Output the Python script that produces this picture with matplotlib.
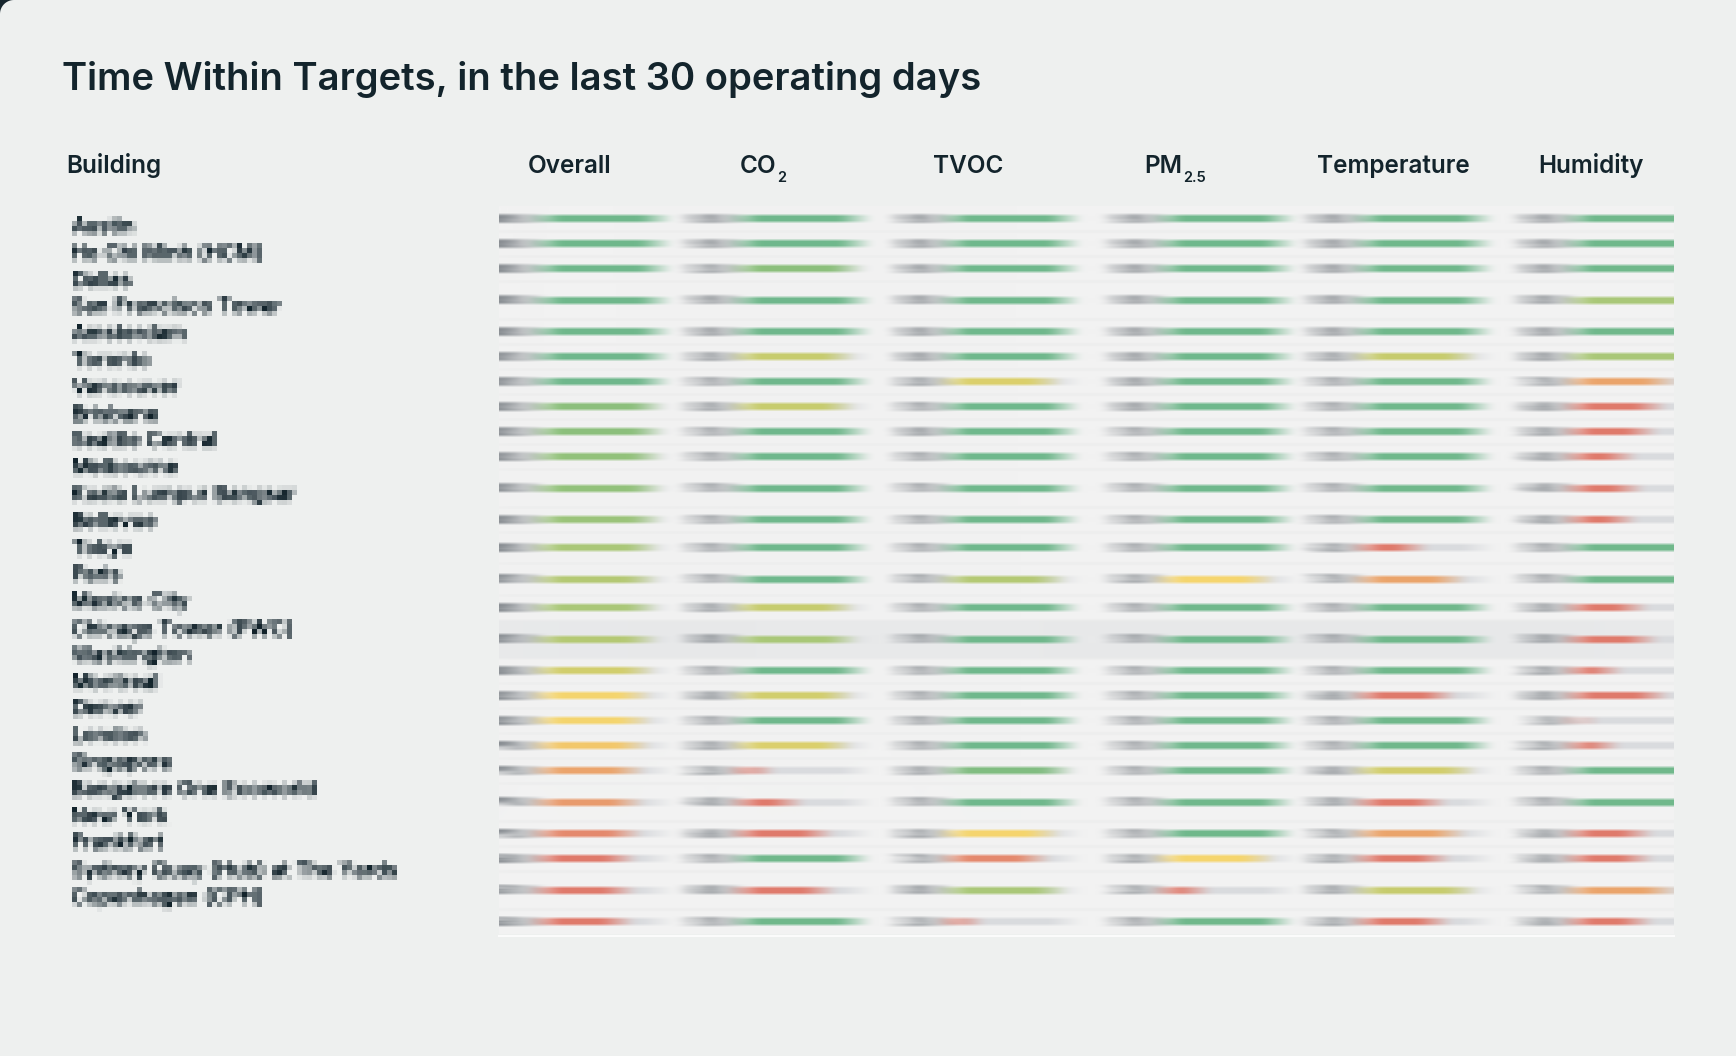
import numpy as np
import matplotlib
matplotlib.use('Agg')
import matplotlib.pyplot as plt
from matplotlib.colors import LinearSegmentedColormap, Normalize
from matplotlib.patches import Rectangle, Polygon

plt.rcParams['font.family'] = ['Inter', 'DejaVu Sans']

# ---- data ----
buildings = ['Austin', 'Ho Chi Minh (HCM)', 'Dallas', 'San Francisco Tower',
             'Amsterdam', 'Toronto', 'Vancouver', 'Brisbane', 'Seattle Central',
             'Melbourne', 'Kuala Lumpur Bangsar', 'Bellevue', 'Tokyo', 'Paris',
             'Mexico City', 'Chicago Tower (PWC)', 'Washington', 'Montreal',
             'Denver', 'London', 'Singapore', 'Bangalore One Ecoworld',
             'New York', 'Frankfurt', 'Sydney Quay (Hub) at The Yards',
             'Copenhagen (CPH)']
# header text and optional subscript
metrics = [('Overall', ''), ('CO', '2'), ('TVOC', ''), ('PM', '2.5'),
           ('Temperature', ''), ('Humidity', '')]

# percent of time within target, one value per building
overall = [99, 98, 98, 98, 98, 97, 97, 92, 92, 91, 91, 90, 88, 87, 88, 87, 84, 81, 81, 79, 75, 74, 72, 68, 67, 65]
co2 = [98, 99, 92, 99, 98, 85, 97, 85, 97, 97, 97, 97, 97, 97, 85, 88, 97, 84, 97, 83, 15, 40, 66, 97, 68, 97]
tvoc = [99, 98, 99, 98, 98, 98, 83, 97, 98, 97, 97, 97, 97, 87, 97, 97, 97, 97, 97, 97, 93, 97, 81, 72, 88, 15]
pm25 = [99, 99, 98, 98, 98, 98, 98, 98, 97, 97, 97, 97, 97, 81, 97, 97, 97, 97, 97, 97, 97, 97, 97, 81, 25, 97]
temperature = [98, 98, 98, 98, 98, 85, 97, 97, 97, 97, 97, 97, 42, 75, 97, 97, 97, 66, 97, 97, 84, 58, 75, 62, 85, 62]
humidity = [99, 99, 98, 88, 98, 88, 75, 66, 58, 40, 46, 40, 97, 97, 50, 58, 28, 68, 5, 25, 97, 97, 54, 54, 75, 54]
columns = [overall, co2, tvoc, pm25, temperature, humidity]

# ---- layout (pixels) ----
W, H = 1736, 1056
area_x0, area_x1, area_y0 = 499, 1674, 206
row_h = [25, 25, 25, 38, 25, 25, 25, 25, 25, 25, 38, 25, 31, 32, 25, 38, 25, 25, 25,
         25, 25, 38, 25, 25, 38, 25]
highlight_row = 15
col_x0 = [543, 742, 951, 1166, 1364, 1575]
bar_len = 115
head_x = [570, 763, 968, 1175, 1393, 1591]
DARK = '#13242c'

cmap = LinearSegmentedColormap.from_list('within', [
    (0.00, '#e07a6c'), (0.25, '#e07a6c'), (0.30, '#e58b6e'), (0.375, '#eba46c'),
    (0.45, '#f2c26a'), (0.525, '#f5d56e'), (0.575, '#dcd06c'), (0.625, '#c8cc6e'),
    (0.70, '#abc878'), (0.80, '#8cc07c'), (0.875, '#70b88c'), (1.0, '#70b88c')])
norm = Normalize(60, 100)


def box(a, k, axis):
    pad = k // 2
    pw = [(0, 0)] * a.ndim
    pw[axis] = (pad + 1, pad)
    c = np.cumsum(np.pad(a, pw, mode='edge'), axis=axis)
    n = a.shape[axis]
    hi = np.take(c, np.arange(k, k + n), axis=axis)
    lo = np.take(c, np.arange(0, n), axis=axis)
    return (hi - lo) / k


def unpremult(pm):
    alpha = pm[..., 3:4]
    rgb = pm[..., :3] / np.maximum(alpha, 1e-6)
    return np.concatenate([np.clip(rgb, 0, 1), np.clip(alpha, 0, 1)], axis=2)


def smear(img, dpi):
    # horizontal motion blur, kept inside the cropped area
    a = img[..., 3:4]
    pm = np.concatenate([img[..., :3] * a, a], axis=2)
    for k in (33, 13):
        pm = box(pm, k, 1)
    pm = box(pm, 3, 0)
    return unpremult(pm), 0, 0


def pixelate(img, dpi):
    b = 5
    h, w = img.shape[:2]
    hh, ww = -(-h // b) * b, -(-w // b) * b
    p = np.zeros((hh, ww, 4))
    p[:h, :w] = img
    a = p[..., 3:4]
    pm = np.concatenate([p[..., :3] * a, a], axis=2)
    blk = pm.reshape(hh // b, b, ww // b, b, 4).mean(axis=(1, 3))
    blk = np.repeat(np.repeat(blk, b, 0), b, 1)
    out = unpremult(blk)
    out[..., 3] = np.clip(out[..., 3] * 1.6 - 0.05, 0, 1)
    return out, 0, -(hh - h)


fig = plt.figure(figsize=(17.36, 10.56), dpi=100)
fig.patch.set_facecolor('#eef0ef')
ax = fig.add_axes([0, 0, 1, 1])
ax.set_xlim(0, W)
ax.set_ylim(H, 0)
ax.axis('off')

# window corner
r = 14
t = np.linspace(0, np.pi / 2, 20)
corner = [(0, 0)] + list(zip(r - r * np.sin(t), r - r * np.cos(t)))
ax.add_patch(Polygon(corner, closed=True, color='#17262d', lw=0))

ax.text(62, 90, 'Time Within Targets, in the last 30 operating days',
        fontsize=27.5, fontweight='semibold', color=DARK, va='baseline')
ax.text(66, 173, 'Building', fontsize=17.5, fontweight='semibold', color=DARK,
        va='baseline')

renderer = fig.canvas.get_renderer()
for x, (main, sub) in zip(head_x, metrics):
    txt = ax.text(x, 173, main, fontsize=17.5, fontweight='semibold', color=DARK,
                  ha='center', va='baseline')
    if sub:
        bb = txt.get_window_extent(renderer)
        probe = ax.text(0, 0, sub, fontsize=10.5, fontweight='semibold')
        sw = probe.get_window_extent(renderer).width
        probe.remove()
        shift = (sw + 1) / 2
        txt.set_x(x - shift)
        ax.text(x - shift + bb.width / 2 + 1, 182, sub, fontsize=10.5,
                fontweight='semibold', color=DARK, va='baseline')

for i, name in enumerate(buildings):
    t_ = ax.text(71, 227 + 26.8 * i, name, fontsize=15, fontweight='medium',
                 color=DARK, va='center')
    t_.set_agg_filter(pixelate)

# ---- blurred bar table ----
tops = area_y0 + np.concatenate([[0], np.cumsum(row_h)[:-1]])
centers = tops + np.array(row_h) / 2
area_y1 = area_y0 + sum(row_h)

bx = fig.add_axes([area_x0 / W, 1 - area_y1 / H, (area_x1 - area_x0) / W,
                   (area_y1 - area_y0) / H])
bx.set_xlim(area_x0, area_x1)
bx.set_ylim(area_y1, area_y0)
bx.axis('off')
bx.set_zorder(2)
bx.add_patch(Rectangle((area_x0, area_y0), area_x1 - area_x0, area_y1 - area_y0,
                       color='#f2f2f2', lw=0, zorder=0))
bx.add_patch(Rectangle((area_x0, tops[highlight_row]), area_x1 - area_x0,
                       row_h[highlight_row], color='#e8e9ea', lw=0, zorder=0.5))
bx.hlines(tops[1:], area_x0, area_x1, color='#e9eaea', lw=1, zorder=1)

for x0, vals in zip(col_x0, columns):
    vals = np.array(vals)
    bx.barh(centers, bar_len, left=x0, height=7, color='#d9dbde', lw=0, zorder=2)
    bx.barh(centers, vals / 100 * bar_len, left=x0, height=7,
            color=cmap(norm(vals)), lw=0, zorder=3)
    for y, v in zip(centers, vals):
        bx.text(x0 - 9, y + 4.3, f'{v:.1f}%', fontsize=8.5, family='DejaVu Sans',
                fontweight='bold', color='#5a6168', ha='right', va='baseline',
                zorder=3, clip_on=True)
bx.set_agg_filter(smear)

ax.plot([area_x0, area_x1], [area_y1 + 1.5, area_y1 + 1.5], color='#fbfbfb', lw=1.5)

fig.savefig('out.png', dpi=100, facecolor=fig.get_facecolor())
